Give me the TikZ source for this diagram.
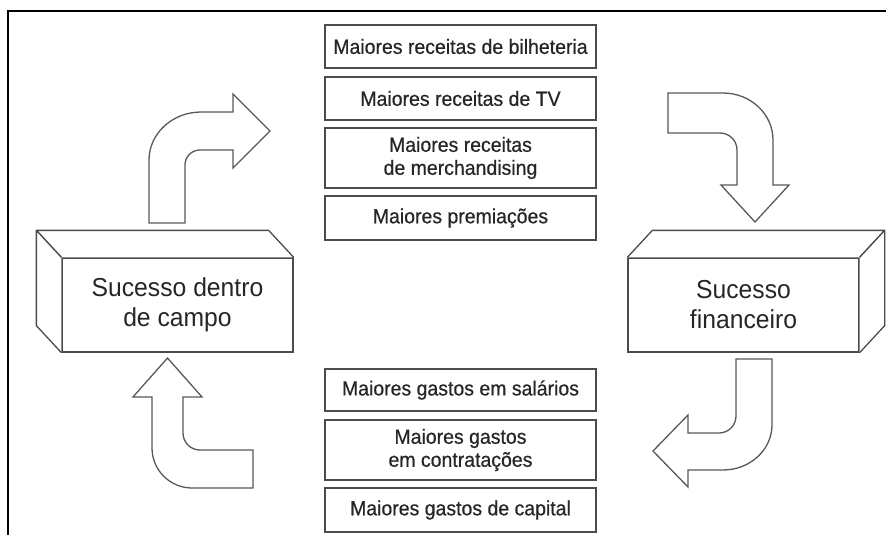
\documentclass[tikz,border=0pt]{standalone}
\usepackage{fontspec}
\newfontfamily\boxfont[FakeStretch=0.95]{Liberation Sans}
\newfontfamily\itemfont[FakeStretch=0.95,FakeBold=0.6]{Liberation Sans}
\tikzset{
  item/.style={draw=black!70, line width=1.3pt, minimum width=271pt, inner sep=0pt, align=center, text=black!85, font=\itemfont\fontsize{20.5}{23}\selectfont},
  front/.style={draw=black!70, line width=1.3pt, fill=white, minimum width=231pt, minimum height=94pt, inner sep=0pt, align=center, text=black!85, font=\boxfont\fontsize{26}{30}\selectfont},
  side/.style={draw=black!70, line width=1.3pt, fill=white, line join=round},
  blockarrow/.style={draw=black!65, line width=1.3pt, fill=white, line join=miter}
}
\begin{document}
\begin{tikzpicture}[x=1pt,y=-1pt]
	\useasboundingbox (0,0) rectangle (886,535);
	\draw[line width=2pt] (886,11) -- (8,11) -- (8,535);
	% receitas
	\node[item, minimum height=43pt] (bilheteria) at (460.5,46.5) {Maiores receitas de bilheteria};
	\node[item, minimum height=43pt] (tv) at (460.5,98.5) {Maiores receitas de TV};
	\node[item, minimum height=60pt] (merch) at (460.5,158) {Maiores receitas\\de merchandising};
	\node[item, minimum height=44pt] (premiacoes) at (460.5,218) {Maiores premiações};
	% gastos
	\node[item, minimum height=42pt] (salarios) at (460.5,390) {Maiores gastos em salários};
	\node[item, minimum height=60pt] (contratacoes) at (460.5,450) {Maiores gastos\\em contratações};
	\node[item, minimum height=44pt] (capital) at (460.5,510) {Maiores gastos de capital};
	% caixas
	\node[front] (campo) at (177.5,305) {Sucesso dentro\\de campo};
	\draw[side] (campo.north west) -- ++(-25,-27) -- ([shift={(-25,-27)}]campo.north east) -- (campo.north east);
	\draw[side] (campo.north west) -- ++(-25,-27) -- ([shift={(-25,-27)}]campo.south west) -- (campo.south west);
	\node[front] (financeiro) at (743.5,305) {Sucesso\\financeiro};
	\draw[side] (financeiro.north west) -- ++(25,-27) -- ([shift={(25,-27)}]financeiro.north east) -- (financeiro.north east);
	\draw[side] (financeiro.north east) -- ++(25,-27) -- ([shift={(25,-27)}]financeiro.south east) -- (financeiro.south east);
	% setas
	\draw[blockarrow] (149,223) -- (149,160) .. controls (149,133.6) and (172.4,112) .. (201,112) -- (233,112) -- (233,94) -- (270,131) -- (233,168) -- (233,150) -- (200,150) .. controls (191.7,150) and (185,156.7) .. (185,165) -- (185,223) -- cycle;
	\draw[blockarrow] (668,93) -- (723,93) .. controls (750.5,93) and (773,114) .. (773,140) -- (773,185) -- (789,185) -- (755,222) -- (721,185) -- (737,185) -- (737,150) .. controls (737,140.6) and (729.4,133) .. (720,133) -- (668,133) -- cycle;
	\draw[blockarrow] (736,359) -- (772,359) -- (772,425) .. controls (772,449.8) and (750,470) .. (723,470) -- (688,470) -- (688,487) -- (653,451) -- (688,415) -- (688,433) -- (719,433) .. controls (728.4,433) and (736,425.4) .. (736,416) -- cycle;
	\draw[blockarrow] (253,450) -- (200,450) .. controls (190.6,450) and (183,442.4) .. (183,433) -- (183,397) -- (202,397) -- (167.5,358) -- (133,397) -- (152,397) -- (152,448) .. controls (152,470) and (170,488) .. (192,488) -- (253,488) -- cycle;
\end{tikzpicture}
\end{document}
